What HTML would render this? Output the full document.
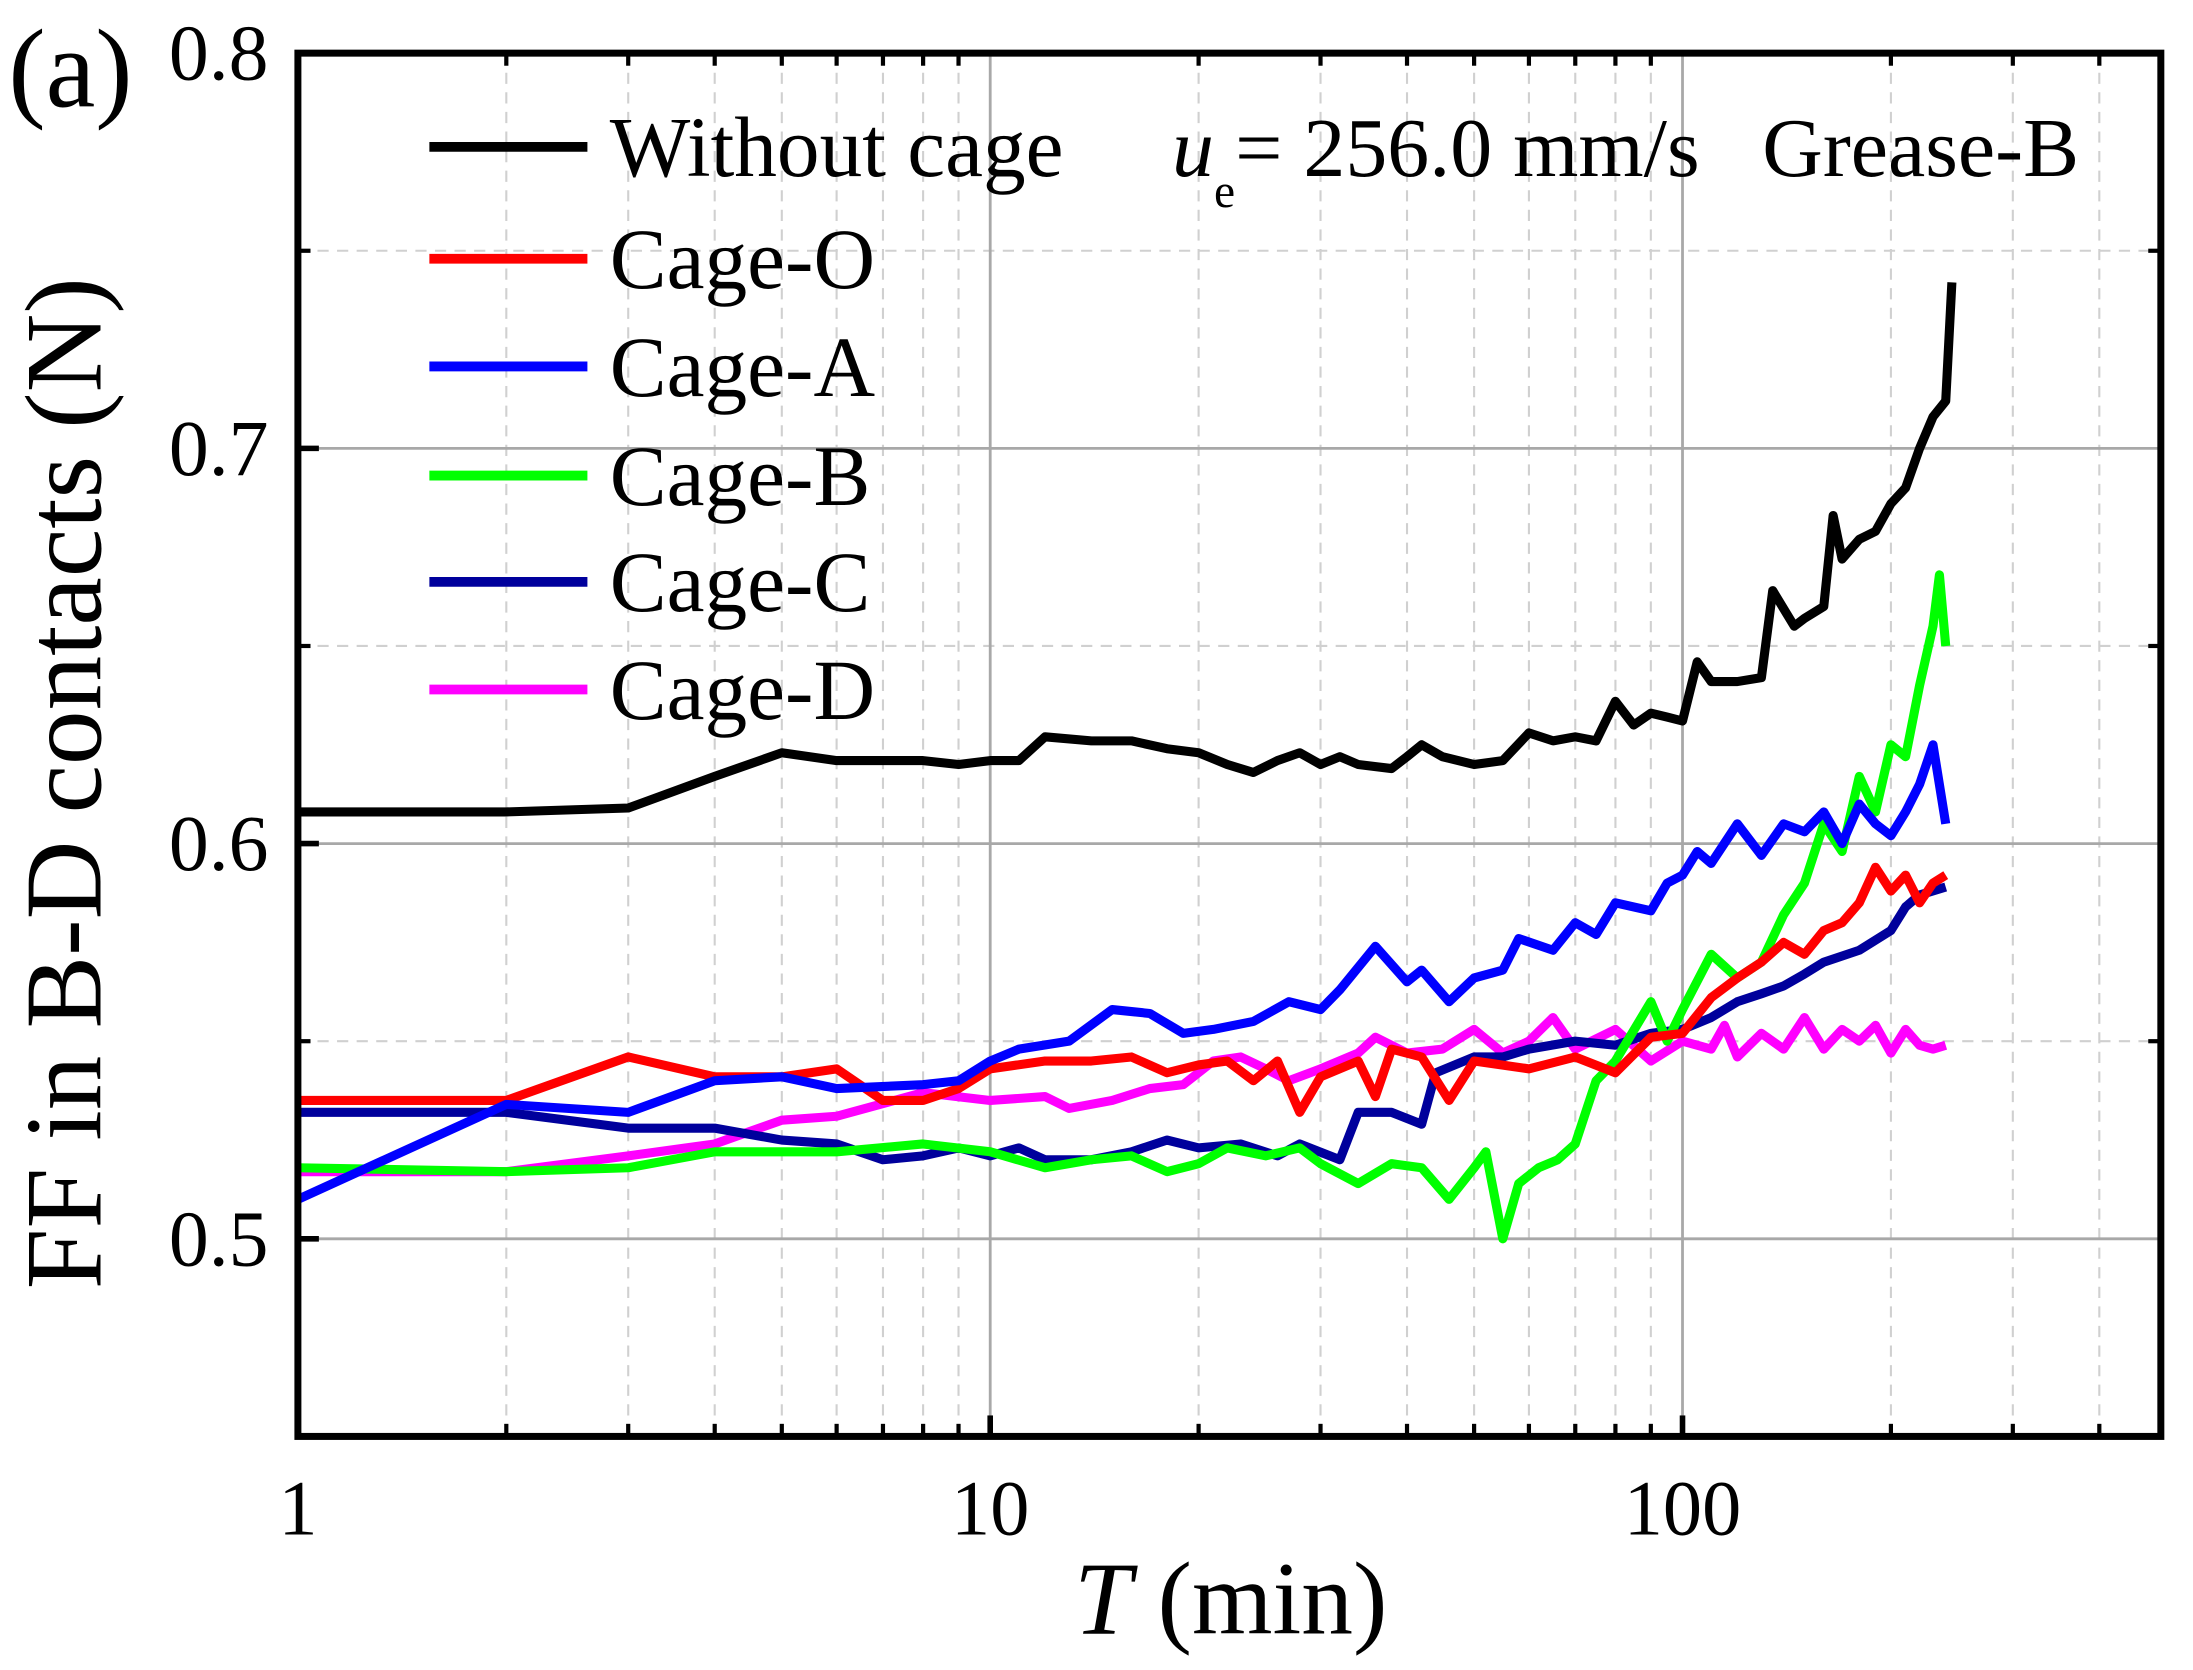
<!DOCTYPE html>
<html><head><meta charset="utf-8"><style>
html,body{margin:0;padding:0;background:#fff;}
svg{display:block;}
text{font-family:"Liberation Serif",serif;fill:#000;}
</style></head><body>
<svg id="chart" width="2193" height="1670" viewBox="0 0 1568 1194" preserveAspectRatio="none" xmlns="http://www.w3.org/2000/svg">
<g id="grid"></g>
<g id="series"></g>
<g id="axes"></g>
<text x="6" y="76" font-size="80">(a)</text>
<text x="880" y="1168" font-size="74" text-anchor="middle"><tspan font-style="italic">T</tspan> (min)</text>
<text transform="translate(72,560) rotate(-90)" font-size="78" text-anchor="middle">FF in B-D contacts (N)</text>
<text x="838" y="126" font-size="60"><tspan font-style="italic">u</tspan><tspan font-size="34" dy="22">e</tspan><tspan dy="-22">= 256.0 mm/s</tspan></text>
<text x="1260" y="126" font-size="60">Grease-B</text>
<g id="legend"></g>
</svg>
<script>
const xTicks=[1,10,100];
const xTickLabels=["1","10","100"];
const yTicks=[0.5,0.6,0.7,0.8];
const yTickLabels=["0.5","0.6","0.7","0.8"];
const names=["Without cage","Cage-O","Cage-A","Cage-B","Cage-C","Cage-D"];
const colors=["#000000","#ff0000","#0000ff","#00ff00","#00009c","#ff00ff"];
const tBlack=[1,2,3,4,5,6,8,9,10,11,12,14,16,18,20,22,24,26,28,30,32,34,38,40,42,45,50,55,60,65,70,75,80,85,90,95,100,105,110,120,130,135,145,150,160,165,170,180,190,200,210,220,230,240,245];
const vBlack=[0.608,0.608,0.609,0.617,0.623,0.621,0.621,0.620,0.621,0.621,0.627,0.626,0.626,0.624,0.623,0.620,0.618,0.621,0.623,0.620,0.622,0.620,0.619,0.622,0.625,0.622,0.620,0.621,0.628,0.626,0.627,0.626,0.636,0.630,0.633,0.632,0.631,0.646,0.641,0.641,0.642,0.664,0.655,0.657,0.660,0.683,0.672,0.677,0.679,0.686,0.690,0.700,0.708,0.712,0.742];
const tRed=[1,2,3,4,5,6,7,8,9,10,12,14,16,18,20,22,24,26,28,30,34,36,38,42,46,50,60,70,80,90,100,110,120,130,140,150,160,170,180,190,200,210,220,230,240];
const vRed=[0.535,0.535,0.546,0.541,0.541,0.543,0.535,0.535,0.538,0.543,0.545,0.545,0.546,0.542,0.544,0.545,0.540,0.545,0.532,0.541,0.545,0.536,0.548,0.546,0.535,0.545,0.543,0.546,0.542,0.551,0.552,0.561,0.566,0.570,0.575,0.572,0.578,0.580,0.585,0.594,0.588,0.592,0.585,0.590,0.592];
const tBlue=[1,2,3,4,5,6,8,9,10,11,13,15,17,19,21,24,27,30,32,36,40,42,46,50,55,58,65,70,75,80,90,95,100,105,110,120,130,140,150,160,170,180,190,200,210,220,230,240];
const vBlue=[0.510,0.534,0.532,0.540,0.541,0.538,0.539,0.540,0.545,0.548,0.550,0.558,0.557,0.552,0.553,0.555,0.560,0.558,0.563,0.574,0.565,0.568,0.560,0.566,0.568,0.576,0.573,0.580,0.577,0.585,0.583,0.590,0.592,0.598,0.595,0.605,0.597,0.605,0.603,0.608,0.600,0.610,0.605,0.602,0.608,0.615,0.625,0.605];
const tGreen=[1,2,3,4,6,8,10,12,14,16,18,20,22,25,28,30,34,38,42,46,50,52,55,58,62,66,70,75,80,90,95,100,110,120,130,140,150,160,170,180,190,200,210,220,230,235,240];
const vGreen=[0.518,0.517,0.518,0.522,0.522,0.524,0.522,0.518,0.520,0.521,0.517,0.519,0.523,0.521,0.523,0.519,0.514,0.519,0.518,0.510,0.518,0.522,0.500,0.514,0.518,0.520,0.524,0.540,0.545,0.560,0.550,0.558,0.572,0.566,0.570,0.582,0.590,0.605,0.598,0.617,0.608,0.625,0.622,0.640,0.655,0.668,0.650];
const tNavy=[1,2,3,4,5,6,7,8,9,10,11,12,14,16,18,20,23,26,28,32,34,38,42,44,50,55,60,70,80,90,100,110,120,130,140,150,160,180,200,210,220,240];
const vNavy=[0.532,0.532,0.528,0.528,0.525,0.524,0.520,0.521,0.523,0.521,0.523,0.520,0.520,0.522,0.525,0.523,0.524,0.521,0.524,0.520,0.532,0.532,0.529,0.542,0.546,0.546,0.548,0.550,0.549,0.552,0.553,0.556,0.560,0.562,0.564,0.567,0.570,0.573,0.578,0.584,0.587,0.589];
const tMag=[1,2,3,4,5,6,8,10,12,13,15,17,19,21,23,25,27,30,34,36,40,45,50,55,60,65,70,80,90,100,110,115,120,130,140,150,160,170,180,190,200,210,220,230,240];
const vMag=[0.517,0.517,0.521,0.524,0.530,0.531,0.537,0.535,0.536,0.533,0.535,0.538,0.539,0.545,0.546,0.543,0.540,0.543,0.547,0.551,0.547,0.548,0.553,0.547,0.550,0.556,0.548,0.553,0.545,0.550,0.548,0.554,0.546,0.552,0.548,0.556,0.548,0.553,0.550,0.554,0.547,0.553,0.549,0.548,0.549];
const seriesT=[tBlack,tRed,tBlue,tGreen,tNavy,tMag];
const seriesV=[vBlack,vRed,vBlue,vGreen,vNavy,vMag];

const L=213,R=1545,T=38,B=1027;
const decade=495, yMin=0.45, yMax=0.8;
function xs(t){return L+Math.log10(t)*decade;}
function ys(v){return B-(v-yMin)/(yMax-yMin)*(B-T);}
const NS="http://www.w3.org/2000/svg";
function mk(tag,attrs,parent){const e=document.createElementNS(NS,tag);for(const k in attrs)e.setAttribute(k,attrs[k]);parent.appendChild(e);return e;}
const grid=document.getElementById('grid'),axes=document.getElementById('axes'),ser=document.getElementById('series'),leg=document.getElementById('legend');
const xMax=Math.pow(10,(R-L)/decade);
for(let d=1;d<=100;d*=10){for(let m=2;m<=9;m++){const t=d*m;if(t>xMax)continue;const x=xs(t);
 const g=mk('line',{x1:x,x2:x,y1:T,y2:B,stroke:'#d0d0d0','stroke-width':1.5,'stroke-dasharray':'8,6'},grid);
 
 
 const tk=mk('line',{x1:x,x2:x,y1:B,y2:B-9,stroke:'#000','stroke-width':3},axes);
 
 
 const tk2=mk('line',{x1:x,x2:x,y1:T,y2:T+9,stroke:'#000','stroke-width':3},axes);
 
 
}}
for(let v=0.55;v<0.8;v+=0.1){const y=ys(v);
 const g=mk('line',{x1:L,x2:R,y1:y,y2:y,stroke:'#d0d0d0','stroke-width':1.5,'stroke-dasharray':'8,6'},grid);
 
 
 const tk=mk('line',{x1:L,x2:L+9,y1:y,y2:y,stroke:'#000','stroke-width':3},axes);
 
 
 const tk2=mk('line',{x1:R,x2:R-9,y1:y,y2:y,stroke:'#000','stroke-width':3},axes);
 
 
}
xTicks.forEach((t,i)=>{const x=xs(t);
 if(i>0){const g=mk('line',{x1:x,x2:x,y1:T,y2:B,stroke:'#a8a8a8','stroke-width':2},grid);
 
 }
 const tk=mk('line',{x1:x,x2:x,y1:B,y2:B-15,stroke:'#000','stroke-width':4},axes);
 
 
 const lb=mk('text',{x:x,y:1097,'font-size':56,'text-anchor':'middle'},axes);lb.textContent=xTickLabels[i];
 
 
});
yTicks.forEach((v,i)=>{const y=ys(v);
 const g=mk('line',{x1:L,x2:R,y1:y,y2:y,stroke:'#a8a8a8','stroke-width':2},grid);
 
 
 const tk=mk('line',{x1:L,x2:L+15,y1:y,y2:y,stroke:'#000','stroke-width':4},axes);
 
 
 const lb=mk('text',{x:192,y:y+19,'font-size':57,'text-anchor':'end'},axes);lb.textContent=yTickLabels[i];
 
 
});
const fr=mk('rect',{x:L,y:T,width:R-L,height:B-T,fill:'none',stroke:'#000','stroke-width':5},axes);


const order=[5,4,3,1,2,0];
order.forEach(i=>{const pts=seriesT[i].map((t,j)=>xs(t).toFixed(1)+','+ys(seriesV[i][j]).toFixed(1)).join(' ');
 const p=mk('polyline',{points:pts,fill:'none',stroke:colors[i],'stroke-width':6.5,'stroke-linejoin':'round'},ser);
 
 
});
const legY=[105,185,262,340,416,493];
names.forEach((n,i)=>{
 const ln=mk('line',{x1:307,x2:420,y1:legY[i],y2:legY[i],stroke:colors[i],'stroke-width':7},leg);
 
 
 const tx=mk('text',{x:436,y:legY[i]+21,'font-size':61},leg);tx.textContent=n;
 
 
});
</script>
</body></html>
